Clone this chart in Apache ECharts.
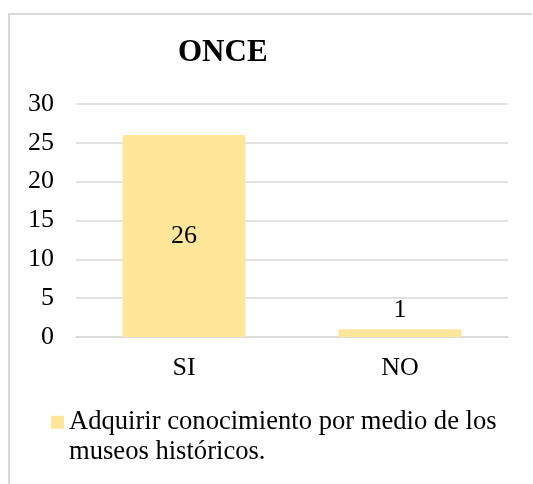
<!DOCTYPE html>
<html>
<head>
<meta charset="utf-8">
<script src="https://cdn.jsdelivr.net/npm/echarts@6/dist/echarts.min.js"></script>
<style>
  html, body { margin: 0; padding: 0; background: #fff; overflow: hidden; }
  #frame {
    position: absolute; left: 8px; top: 13px; width: 522px; height: 471px;
    border-left: 2px solid #d9d9d9; border-top: 2px solid #d9d9d9;
  }
  #chart { position: absolute; left: 0; top: 0; width: 533px; height: 484px; }
</style>
</head>
<body>
<div id="frame"></div>
<div id="chart"></div>
<script>
const titleText = 'ONCE'
const categories = ['SI', 'NO']
const seriesName = 'Adquirir conocimiento por medio de los museos históricos.'
const legendLines = ['Adquirir conocimiento por medio de los', 'museos históricos.']
const values = [26, 1]
const yTicks = { min: 0, max: 30, interval: 5 }

const serif = '"Liberation Serif", "Times New Roman", serif'
const barColor = '#FFE699'
const gridColor = '#d9d9d9'

const chart = echarts.init(document.getElementById('chart'))
const option = {
  animation: false,
  title: {
    text: titleText,
    left: 178,
    top: 37,
    padding: 0,
    textStyle: { fontFamily: serif, fontSize: 31, fontWeight: 'bold', color: '#000', lineHeight: 31 }
  },
  grid: { left: 76, right: 25, top: 104, bottom: 147 },
  legend: {
    data: [seriesName],
    left: 51,
    top: 378,
    padding: 0,
    icon: 'rect',
    itemWidth: 13,
    itemHeight: 13,
    // blank first line keeps the marker level with the first text line
    formatter: () => '\n' + legendLines.join('\n'),
    textStyle: { fontFamily: serif, fontSize: 26.6, color: '#000', lineHeight: 29.5 }
  },
  xAxis: {
    type: 'category',
    data: categories,
    axisTick: { show: false },
    axisLine: { lineStyle: { color: gridColor, width: 1.5 } },
    axisLabel: { fontFamily: serif, fontSize: 26, color: '#000', margin: 18, lineHeight: 26 }
  },
  yAxis: {
    type: 'value',
    min: yTicks.min,
    max: yTicks.max,
    interval: yTicks.interval,
    axisLine: { show: false },
    axisTick: { show: false },
    splitLine: { lineStyle: { color: gridColor, width: 1.5 } },
    axisLabel: { fontFamily: serif, fontSize: 26, color: '#000', margin: 22 }
  },
  series: [{
    name: seriesName,
    type: 'bar',
    barWidth: '57%',
    itemStyle: { color: barColor },
    label: {
      show: true,
      fontFamily: serif,
      fontSize: 26,
      color: '#000',
      lineHeight: 26
    },
    data: values.map(v => ({
      value: v,
      label: v > 3 ? { position: 'inside' } : { position: 'top', distance: 6 }
    }))
  }]
}
chart.setOption(option)
</script>
</body>
</html>
